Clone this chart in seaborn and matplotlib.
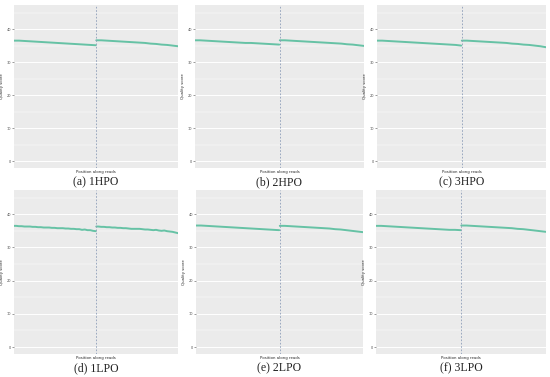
import numpy as np
import pandas as pd
import seaborn as sns
import matplotlib.pyplot as plt

# positions along reads (read 1: 1-150, read 2: 151-300)
pos = [1, 10, 20, 30, 40, 50, 60, 70, 80, 90, 100, 110, 120, 130, 140, 150]
pos_fine = [1, 5, 10, 15, 20, 25, 30, 35, 40, 45, 50, 55, 60, 65, 70, 75,
            80, 85, 90, 95, 100, 105, 110, 115, 120, 125, 130, 135, 140, 145, 150]

hpo1_r1 = [36.5, 36.5, 36.4, 36.3, 36.2, 36.1, 36.0, 35.9, 35.8, 35.7, 35.6, 35.5, 35.4, 35.3, 35.2, 35.1]
hpo1_r2 = [36.6, 36.6, 36.5, 36.4, 36.3, 36.2, 36.1, 36.0, 35.9, 35.8, 35.6, 35.5, 35.3, 35.2, 35.0, 34.8]
hpo2_r1 = [36.6, 36.6, 36.5, 36.4, 36.3, 36.2, 36.1, 36.0, 35.9, 35.8, 35.8, 35.7, 35.6, 35.5, 35.4, 35.3]
hpo2_r2 = [36.6, 36.6, 36.5, 36.4, 36.3, 36.2, 36.1, 36.0, 35.9, 35.8, 35.7, 35.6, 35.4, 35.3, 35.1, 34.9]
hpo3_r1 = [36.5, 36.5, 36.4, 36.3, 36.2, 36.1, 36.0, 35.9, 35.8, 35.7, 35.6, 35.5, 35.4, 35.3, 35.2, 35.0]
hpo3_r2 = [36.5, 36.5, 36.4, 36.3, 36.2, 36.1, 36.0, 35.9, 35.8, 35.6, 35.5, 35.3, 35.2, 35.0, 34.8, 34.5]
lpo1_r1 = [36.5, 36.5, 36.4, 36.4, 36.3, 36.3, 36.3, 36.2, 36.2, 36.1, 36.1, 36.0, 36.0, 36.0, 35.9, 35.9,
           35.8, 35.8, 35.8, 35.7, 35.7, 35.6, 35.6, 35.5, 35.5, 35.3, 35.4, 35.2, 35.2, 35.0, 34.9]
lpo1_r2 = [36.3, 36.3, 36.2, 36.2, 36.1, 36.1, 36.0, 36.0, 35.9, 35.9, 35.8, 35.8, 35.7, 35.6, 35.6, 35.6,
           35.6, 35.5, 35.4, 35.4, 35.3, 35.2, 35.3, 35.1, 35.0, 35.1, 34.9, 34.8, 34.7, 34.5, 34.3]
lpo2_r1 = [36.6, 36.6, 36.5, 36.4, 36.3, 36.2, 36.1, 36.0, 35.9, 35.8, 35.7, 35.6, 35.5, 35.4, 35.3, 35.2]
lpo2_r2 = [36.5, 36.5, 36.4, 36.3, 36.2, 36.1, 36.0, 35.9, 35.8, 35.7, 35.5, 35.4, 35.2, 35.0, 34.8, 34.6]
lpo3_r1 = [36.5, 36.5, 36.4, 36.3, 36.2, 36.1, 36.0, 35.9, 35.8, 35.7, 35.6, 35.5, 35.4, 35.3, 35.3, 35.2]
lpo3_r2 = [36.6, 36.6, 36.5, 36.4, 36.3, 36.2, 36.1, 36.0, 35.9, 35.8, 35.6, 35.5, 35.3, 35.1, 34.9, 34.7]

captions = ['(a) 1HPO', '(b) 2HPO', '(c) 3HPO', '(d) 1LPO', '(e) 2LPO', '(f) 3LPO']
series = [(pos, hpo1_r1, hpo1_r2), (pos, hpo2_r1, hpo2_r2), (pos, hpo3_r1, hpo3_r2),
          (pos_fine, lpo1_r1, lpo1_r2), (pos, lpo2_r1, lpo2_r2), (pos, lpo3_r1, lpo3_r2)]
read_len = 150

sns.set_theme(style='darkgrid', rc={'axes.facecolor': '#EBEBEB', 'grid.color': 'white'})

W, H = 550, 377
fig = plt.figure(figsize=(5.5, 3.77), dpi=100)
fig.patch.set_facecolor('white')

# panel boxes in pixels: left, top, right, bottom
boxes = [(14, 5, 178, 168), (195, 5, 364, 168), (377, 5, 546, 168),
         (14, 190, 178, 354), (196, 190, 363, 354), (376, 190, 546, 354)]

for (x0, y0, x1, y1), cap, (p, r1, r2) in zip(boxes, captions, series):
    ax = fig.add_axes([x0 / W, 1 - y1 / H, (x1 - x0) / W, (y1 - y0) / H])
    d1 = pd.DataFrame({'pos': p, 'q': r1})
    d2 = pd.DataFrame({'pos': [v + read_len for v in p], 'q': r2})
    sns.lineplot(data=d1, x='pos', y='q', ax=ax, color='#66C2A5', lw=1.4)
    sns.lineplot(data=d2, x='pos', y='q', ax=ax, color='#66C2A5', lw=1.4)
    ax.axvline(read_len + 0.5, color='#8C9DB8', ls=(0, (2, 2)), lw=0.6)
    ax.set_xlim(1, 2 * read_len)
    ax.set_ylim(-2.1, 47.3)
    ax.set_yticks([0, 10, 20, 30, 40])
    ax.set_yticks([5, 15, 25, 35, 45], minor=True)
    ax.set_xticks([])
    ax.grid(which='major', axis='y', color='white', lw=0.7)
    ax.grid(which='minor', axis='y', color='white', lw=0.35)
    ax.tick_params(axis='y', which='major', labelsize=2.5, colors='#4D4D4D',
                   length=1.2, width=0.4, pad=1, left=True)
    ax.tick_params(axis='y', which='minor', length=0)
    for s in ax.spines.values():
        s.set_visible(False)
    ax.set_ylabel('Quality score', fontsize=2.8, labelpad=2)
    ax.set_xlabel('Position along reads', fontsize=2.8, labelpad=1.5)
    cx = (x0 + x1) / 2 / W
    fig.text(cx, 1 - (y1 + 14) / H, cap, ha='center', va='center',
             fontsize=8.5, family='Liberation Serif', color='#222222')

fig.savefig('out.png', dpi=100)
